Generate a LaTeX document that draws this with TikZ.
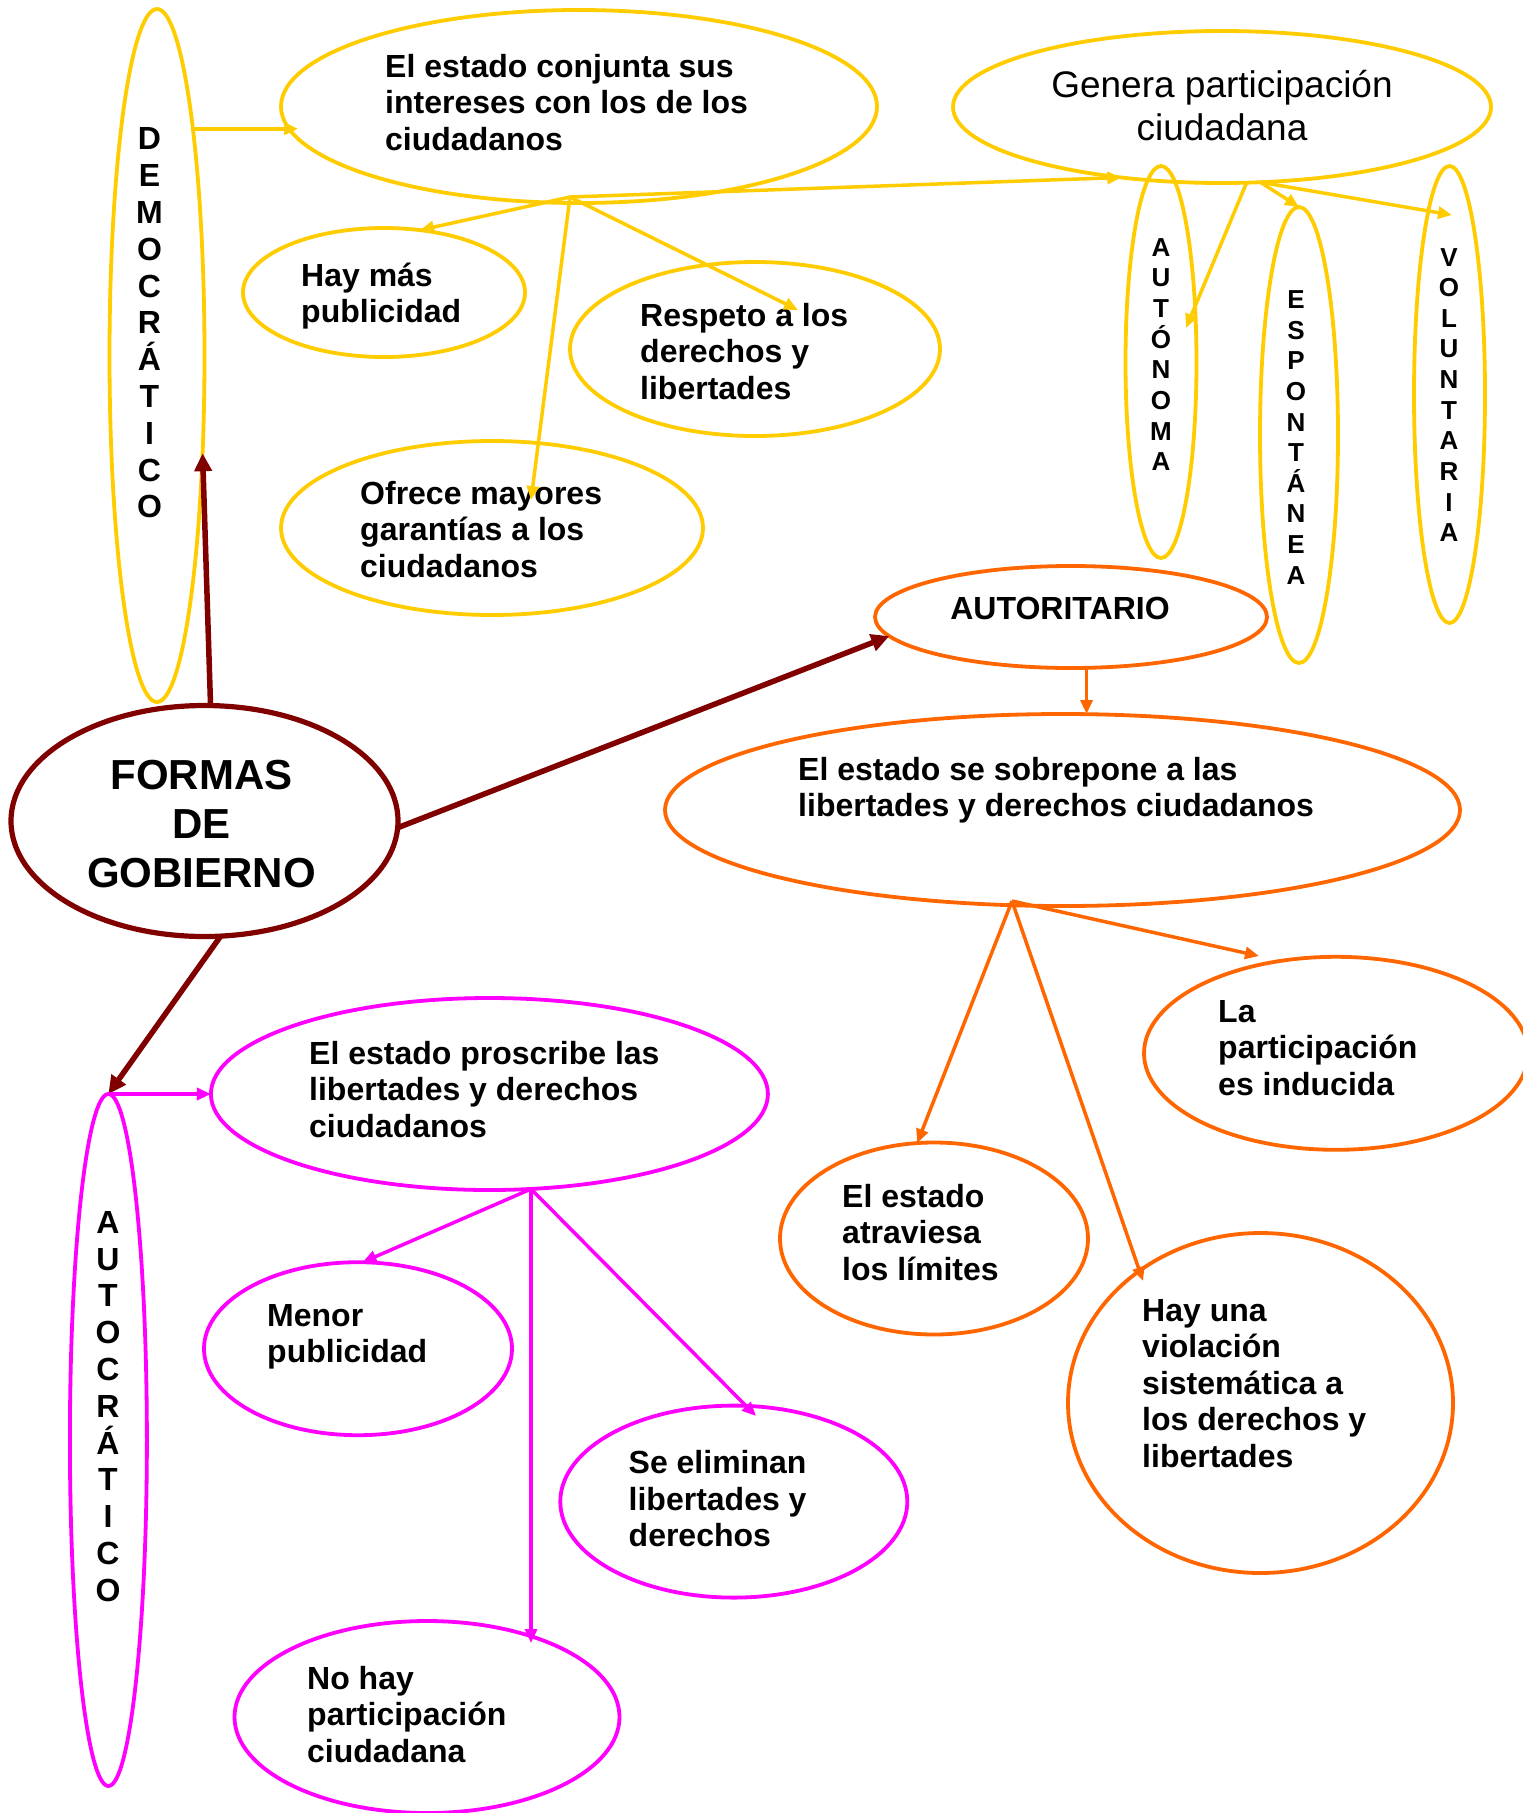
\documentclass[tikz,border=0pt]{standalone}
\usepackage{fontspec}
\setmainfont{Liberation Sans}
\usetikzlibrary{arrows.meta,shapes.geometric}
\definecolor{cyel}{RGB}{255,204,0}
\definecolor{corg}{RGB}{255,102,0}
\definecolor{cmag}{RGB}{255,0,255}
\definecolor{cmar}{RGB}{128,0,0}
\begin{document}
\begin{tikzpicture}[x=1pt,y=-1pt,
  ell/.style={ellipse,draw,line width=3.8pt,inner sep=0pt,outer sep=0pt},
  yel/.style={ell,draw=cyel},
  org/.style={ell,draw=corg},
  mag/.style={ell,draw=cmag},
  txt/.style={anchor=base west,align=left,inner sep=0pt,font=\bfseries\fontsize{32}{36.5}\selectfont},
  ctxt/.style={anchor=base,align=center,inner sep=0pt,font=\bfseries\fontsize{32}{36.5}\selectfont},
  gtxt/.style={anchor=base,align=center,inner sep=0pt,font=\fontsize{37}{43}\selectfont},
  ftxt/.style={anchor=base,align=center,inner sep=0pt,font=\bfseries\fontsize{42}{49}\selectfont},
  vbig/.style={align=center,inner sep=0pt,font=\bfseries\fontsize{32}{36.8}\selectfont},
  vsmall/.style={align=center,inner sep=0pt,font=\bfseries\fontsize{26}{30.65}\selectfont},
  yarr/.style={draw=cyel,line width=3.5pt,-{Triangle[length=14pt,width=12pt]}},
  oarr/.style={draw=corg,line width=3.5pt,-{Triangle[length=14pt,width=12pt]}},
  mgarr/.style={draw=cmag,line width=3.5pt,-{Triangle[length=14pt,width=12pt]}},
  marr/.style={draw=cmar,line width=5.5pt,-{Triangle[length=18pt,width=17pt]}}
]
\fill[white] (0,0) rectangle (1523,1813);
\useasboundingbox (0,0) rectangle (1523,1813);

% yellow (democratico)
\node[yel, minimum width=95, minimum height=693] (demo) at (157,355.5) {};
\node[yel, minimum width=596, minimum height=193] (conj) at (579,106.5) {};
\node[yel, minimum width=538, minimum height=152] (gen) at (1222,107) {};
\node[yel, minimum width=282, minimum height=129] (hay) at (384,292.5) {};
\node[yel, minimum width=370, minimum height=174] (resp) at (755,349) {};
\node[yel, minimum width=422, minimum height=174] (ofr) at (492,528) {};
\node[yel, minimum width=71, minimum height=392] (aut) at (1161,362) {};
\node[yel, minimum width=78, minimum height=456] (esp) at (1299,435) {};
\node[yel, minimum width=71, minimum height=457] (vol) at (1449.5,394.5) {};
% orange (autoritario)
\node[org, minimum width=392, minimum height=102] (auto) at (1071,617) {};
\node[org, minimum width=795, minimum height=192] (sob) at (1062.5,810) {};
\node[org, minimum width=384, minimum height=193] (la) at (1336,1053.3) {};
\node[org, minimum width=308, minimum height=192] (atr) at (934,1238.5) {};
\node[org, minimum width=385, minimum height=340] (viol) at (1260.5,1403) {};
% maroon
\node[ell, draw=cmar, line width=5.2pt, minimum width=387, minimum height=231] (formas) at (204.5,821) {};
% magenta (autocratico)
\node[mag, minimum width=557, minimum height=192] (pros) at (489.4,1094) {};
\node[mag, minimum width=77, minimum height=692] (autoc) at (108.4,1440) {};
\node[mag, minimum width=308, minimum height=173] (men) at (358,1348.7) {};
\node[mag, minimum width=347, minimum height=192] (elim) at (733.8,1501.6) {};
\node[mag, minimum width=385, minimum height=192] (nohay) at (427,1717) {};

% texts (anchor base = last line)
\node[txt] (tconj) at (385,150) {El estado conjunta sus\\intereses con los de los\\ciudadanos};
\node[gtxt] (tgen) at (1222,140) {Genera participación\\ciudadana};
\node[txt] (thay) at (301,322.5) {Hay más\\publicidad};
\node[txt] (tresp) at (640,399) {Respeto a los\\derechos y\\libertades};
\node[txt] (tofr) at (360,577) {Ofrece mayores\\garantías a los\\ciudadanos};
\node[vbig] (tdemo) at (149.5,323) {D\\E\\M\\O\\C\\R\\Á\\T\\I\\C\\O};
\node[vsmall] (taut) at (1161,354.5) {A\\U\\T\\Ó\\N\\O\\M\\A};
\node[vsmall] (tesp) at (1296,437.4) {E\\S\\P\\O\\N\\T\\Á\\N\\E\\A};
\node[vsmall] (tvol) at (1449,395) {V\\O\\L\\U\\N\\T\\A\\R\\I\\A};
\node[ctxt] (tauto) at (1060,619) {AUTORITARIO};
\node[txt] (tsob) at (798,816.5) {El estado se sobrepone a las\\libertades y derechos ciudadanos};
\node[txt] (tla) at (1218,1095) {La\\participación\\es inducida};
\node[txt] (tatr) at (842,1280) {El estado\\atraviesa\\los límites};
\node[txt] (tviol) at (1142,1467) {Hay una\\violación\\sistemática a\\los derechos y\\libertades};
\node[ftxt] (tformas) at (201.5,887) {FORMAS\\DE\\GOBIERNO};
\node[txt] (tpros) at (309,1137) {El estado proscribe las\\libertades y derechos\\ciudadanos};
\node[vbig] (tautoc) at (108,1406.5) {A\\U\\T\\O\\C\\R\\Á\\T\\I\\C\\O};
\node[txt] (tmen) at (267,1362.5) {Menor\\publicidad};
\node[txt] (telim) at (628.5,1546.5) {Se eliminan\\libertades y\\derechos};
\node[txt] (tnohay) at (307,1762) {No hay\\participación\\ciudadana};

% hubs and free ends
\coordinate (yhub) at (570,197);
\coordinate (respTip) at (798,310);
\coordinate (ofrTip) at (531,500);
\coordinate (conjIn) at (298,125);
\coordinate (autTip) at (1186,328);
\coordinate (volTip) at (1452,215);
\coordinate (mhub) at (531,1189);
\coordinate (elimTip) at (756,1416);
\coordinate (nohayTip) at (531,1643);
\coordinate (ohub) at (1012,901);
\coordinate (laTip) at (1259,956);
\coordinate (violTip) at (1143,1281);

% yellow connectors
\draw[yarr] (demo.81.4) -- (demo.81.4 -| conjIn);
\draw[yarr] (yhub) -- (hay.60);
\draw[yarr] (yhub) -- (respTip);
\draw[yarr] (yhub) -- (ofrTip);
\draw[yarr] (yhub) -- (gen.215);
\draw[yarr] (gen.288.5) -- (autTip);
\draw[yarr] (gen.297.7) -- (esp.north);
\draw[yarr] (gen.297.7) -- (volTip);

% maroon connectors
\draw[marr] (formas.87) -- (demo.-65.4);
\draw[marr] (formas.-2) -- (auto.186);
\draw[marr] (formas.278) -- (autoc.north);

% magenta connectors
\draw[mgarr] (autoc.north) -- (autoc.north -| pros.west);
\draw[mgarr] (mhub) -- (men.87);
\draw[mgarr] (mhub) -- (elimTip);
\draw[mgarr] (mhub) -- (nohayTip);

% orange connectors
\draw[oarr] (auto.287.5) -- (auto.287.5 |- sob.north);
\draw[oarr] (ohub) -- (laTip);
\draw[oarr] (ohub) -- (atr.100);
\draw[oarr] (ohub) -- (violTip);
\end{tikzpicture}
\end{document}
